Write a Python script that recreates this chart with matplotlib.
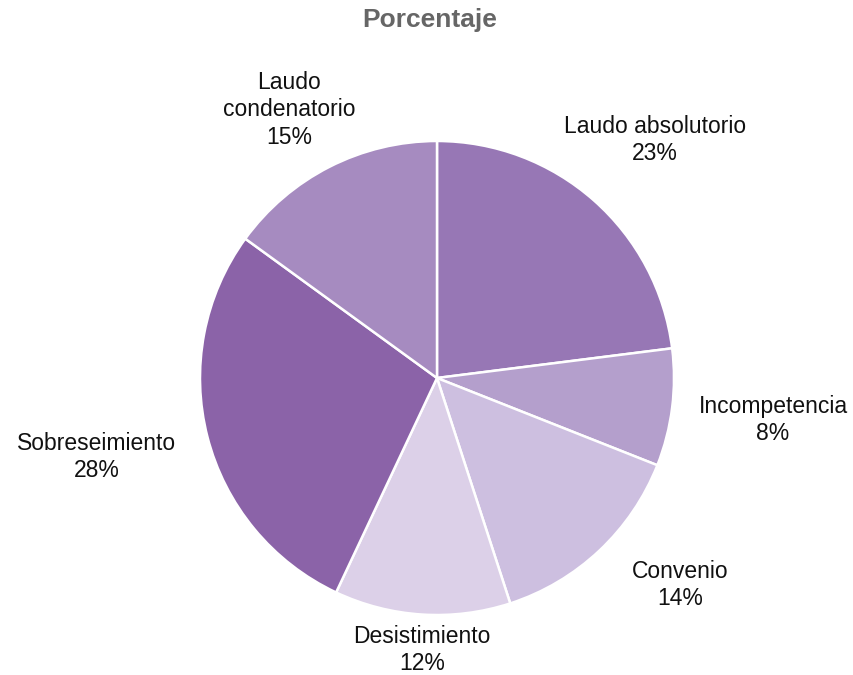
import matplotlib
matplotlib.use("Agg")
import matplotlib.pyplot as plt

categories = ["Laudo absolutorio", "Incompetencia", "Convenio",
              "Desistimiento", "Sobreseimiento", "Laudo\ncondenatorio"]
values = [23, 8, 14, 12, 28, 15]
colors = ["#9777b5", "#b49fcc", "#cdbfe0", "#dcd0e8", "#8b63a8", "#a68bc0"]

# label centres in pixel coords (x right, y up from bottom)
label_xy = [(655, 535), (773, 255), (680, 90), (422, 25), (97, 218), (289, 565)]

plt.rcParams["font.family"] = ["Liberation Sans", "DejaVu Sans"]

W, H = 854, 675
fig = plt.figure(figsize=(W / 100, H / 100), dpi=100)
ax = fig.add_axes([0, 0, 1, 1])

ax.pie(values, colors=colors, startangle=90, counterclock=False,
       center=(437, 297), radius=237,
       wedgeprops=dict(edgecolor="white", linewidth=1.8), frame=True)
ax.set_xlim(0, W)
ax.set_ylim(0, H)
ax.set_aspect("equal")
ax.axis("off")

for name, v, (x, y) in zip(categories, values, label_xy):
    ax.text(x, y, f"{name}\n{v}%", ha="center", va="center",
            fontsize=16.5, color="#111111", linespacing=1.25)

ax.text(430, H - 20, "Porcentaje", ha="center", va="center",
        fontsize=19, fontweight="bold", color="#666666")

fig.savefig("out.png", dpi=100)
